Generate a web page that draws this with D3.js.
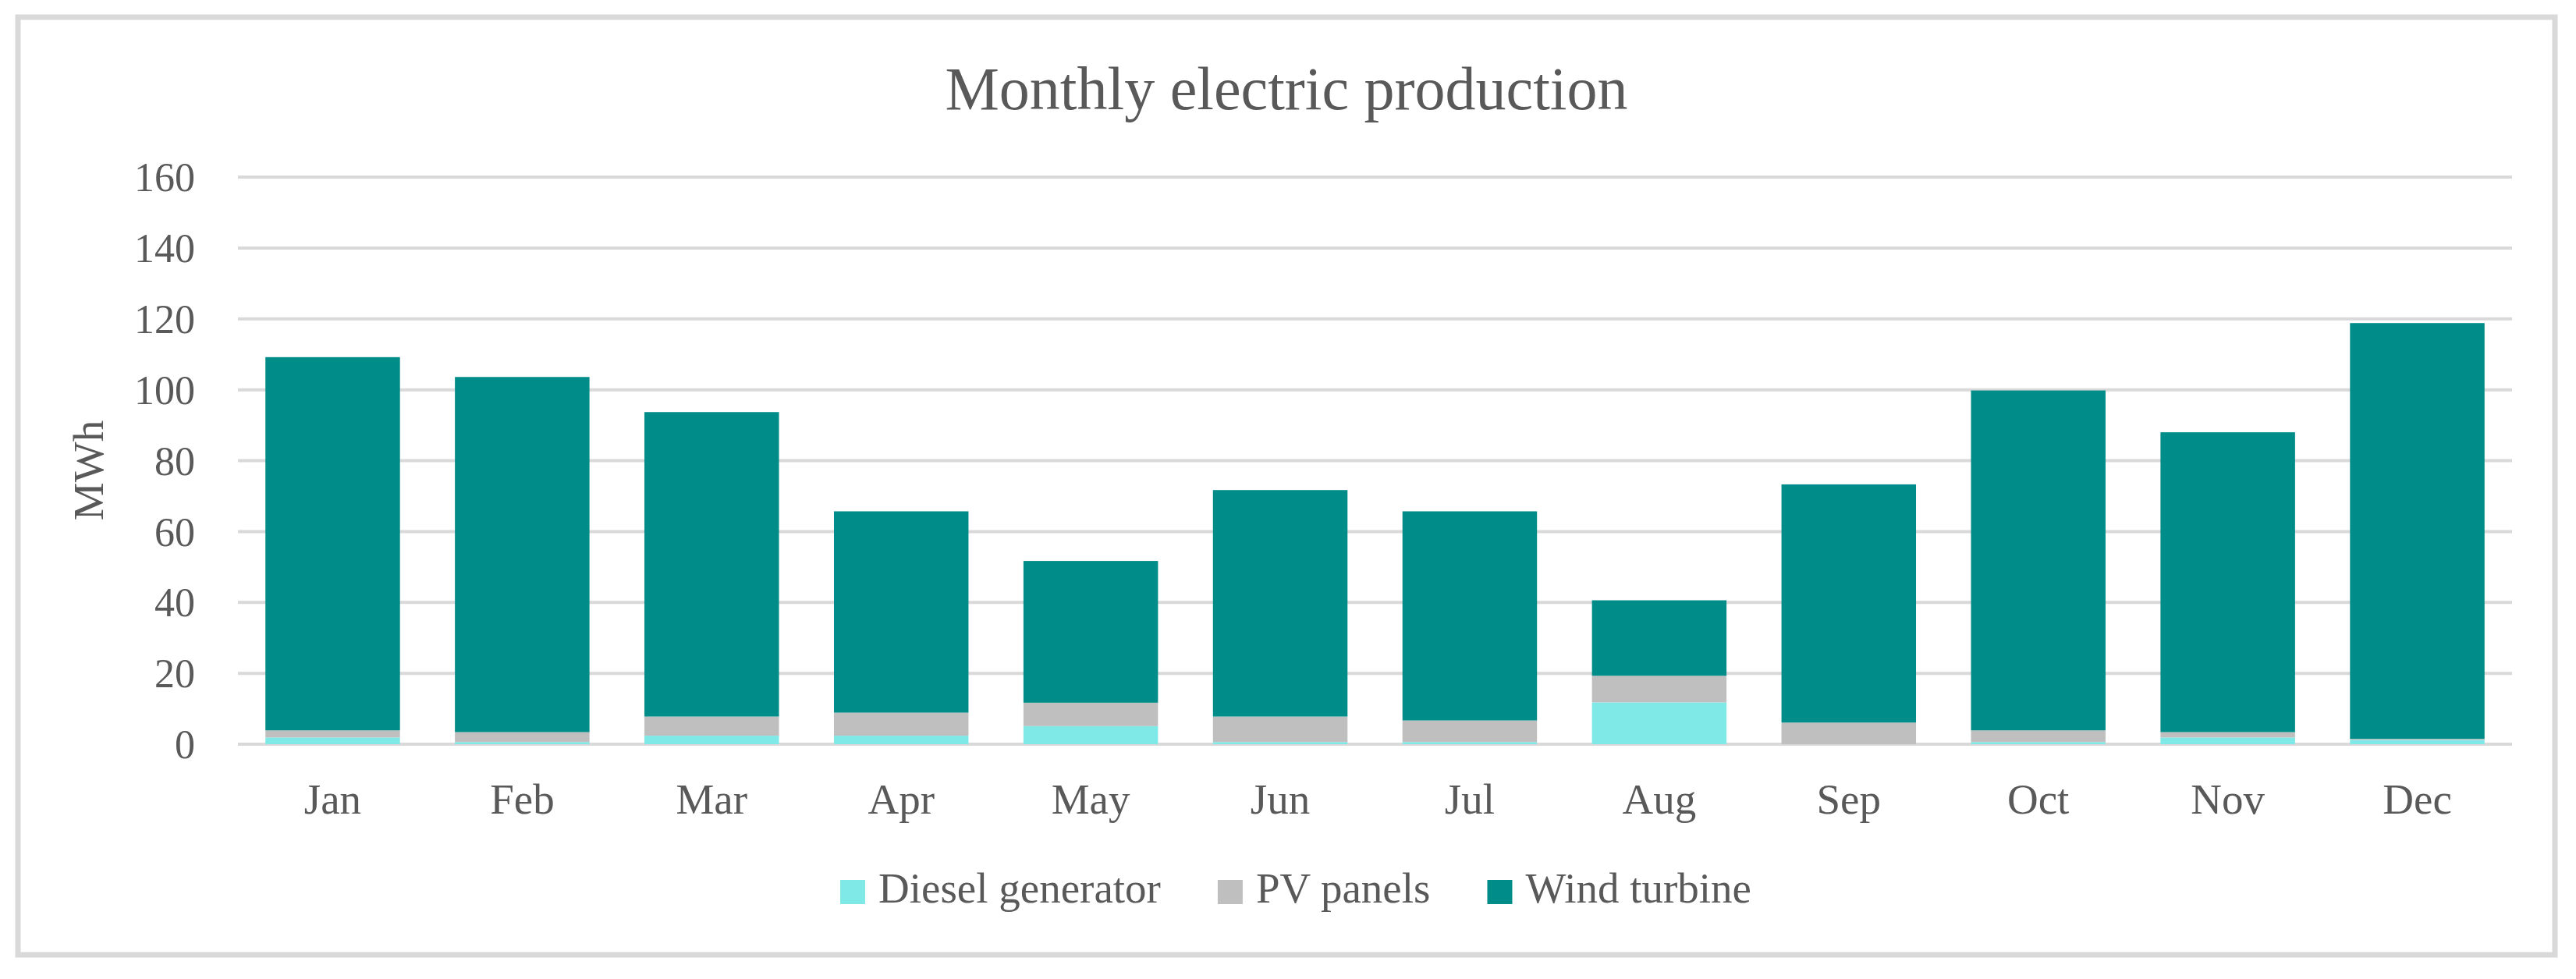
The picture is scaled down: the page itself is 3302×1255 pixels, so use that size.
<!DOCTYPE html>
<html>
<head>
<meta charset="utf-8">
<script src="https://cdn.jsdelivr.net/npm/d3@7"></script>
<style>
  body { margin: 0; background: #ffffff; }
  text { font-family: "Liberation Serif", "DejaVu Serif", serif; fill: #595959; }
</style>
</head>
<body>
<div class="chart"></div>
<script>
var months = ["Jan", "Feb", "Mar", "Apr", "May", "Jun", "Jul", "Aug", "Sep", "Oct", "Nov", "Dec"];
var diesel = [1.9, 0.6, 2.4, 2.4, 5.1, 0.6, 0.6, 11.8, 0.0, 0.6, 1.9, 1.2];
var pv     = [2.0, 2.8, 5.4, 6.5, 6.6, 7.2, 6.1, 7.5, 6.1, 3.3, 1.5, 0.3];
var wind   = [105.3, 100.2, 85.9, 56.8, 40.0, 63.9, 59.0, 21.3, 67.2, 95.9, 84.6, 117.3];
var seriesNames = ["Diesel generator", "PV panels", "Wind turbine"];
var yTicks = [0, 20, 40, 60, 80, 100, 120, 140, 160];

var colors = ["#7ee9e6", "#bfbfbf", "#008c89"];

var width = 3302,
    height = 1255;

var svg = d3.select(".chart")
    .append("svg")
    .attr("width", width)
    .attr("height", height);

svg.append("rect")
    .attr("width", width)
    .attr("height", height)
    .style("fill", "white");

// outer frame
svg.append("rect")
    .attr("x", 23)
    .attr("y", 22)
    .attr("width", 3275 - 23)
    .attr("height", 1224 - 22)
    .style("fill", "none")
    .style("stroke", "#d9d9d9")
    .style("stroke-width", "7px");

var x = d3.scaleBand()
    .domain(months)
    .range([305, 3220])
    .paddingInner(0.29)
    .paddingOuter(0.145);

var y = d3.scaleLinear()
    .domain([0, 160])
    .range([954, 227]);

// gridlines
svg.append("g")
    .selectAll("line")
    .data(yTicks)
    .enter().append("line")
    .attr("x1", 305)
    .attr("x2", 3220)
    .attr("y1", function(d) { return y(d); })
    .attr("y2", function(d) { return y(d); })
    .style("stroke", "#d9d9d9")
    .style("stroke-width", "4px");

var rows = months.map(function(m, i) {
    return {month: m, d0: diesel[i], d1: pv[i], d2: wind[i]};
});

var stack = d3.stack().keys(["d0", "d1", "d2"]);
var layers = stack(rows);

svg.append("g")
    .selectAll("g")
    .data(layers)
    .enter().append("g")
    .style("fill", function(d, i) { return colors[i]; })
    .selectAll("rect")
    .data(function(d) { return d; })
    .enter().append("rect")
    .attr("x", function(d) { return x(d.data.month); })
    .attr("width", x.bandwidth())
    .attr("y", function(d) { return y(d[1]); })
    .attr("height", function(d) { return y(d[0]) - y(d[1]); });

// y tick labels
svg.append("g")
    .selectAll("text")
    .data(yTicks)
    .enter().append("text")
    .attr("x", 250)
    .attr("y", function(d) { return y(d); })
    .attr("dy", ".35em")
    .attr("text-anchor", "end")
    .style("font-size", "52px")
    .text(function(d) { return d; });

// month labels
svg.append("g")
    .selectAll("text")
    .data(months)
    .enter().append("text")
    .attr("x", function(d) { return x(d) + x.bandwidth() / 2; })
    .attr("y", 1043)
    .attr("text-anchor", "middle")
    .style("font-size", "55px")
    .text(function(d) { return d; });

// axis title
svg.append("text")
    .attr("transform", "translate(132,603) rotate(-90)")
    .attr("text-anchor", "middle")
    .style("font-size", "55px")
    .text("MWh");

// chart title
svg.append("text")
    .attr("x", 1649)
    .attr("y", 140)
    .attr("text-anchor", "middle")
    .style("font-size", "78px")
    .text("Monthly electric production");

// legend
var legend = svg.append("g");
var lx = 0;
seriesNames.forEach(function(name, i) {
    var item = legend.append("g").attr("transform", "translate(" + lx + ",0)");
    item.append("rect")
        .attr("x", 0)
        .attr("y", 1128)
        .attr("width", 32)
        .attr("height", 31)
        .style("fill", colors[i]);
    var t = item.append("text")
        .attr("x", 49)
        .attr("y", 1157)
        .style("font-size", "55px")
        .text(name);
    lx += 49 + t.node().getComputedTextLength() + 73;
});
var legendWidth = lx - 73;
legend.attr("transform", "translate(" + (1661 - legendWidth / 2) + ",0)");
</script>
</body>
</html>
